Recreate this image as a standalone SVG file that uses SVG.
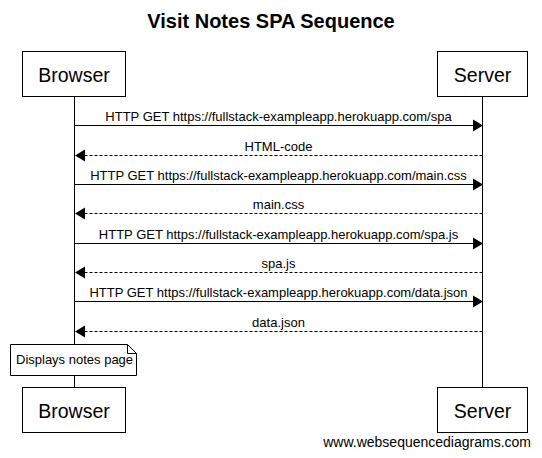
<svg xmlns="http://www.w3.org/2000/svg" width="542" height="458" viewBox="0 0 542 458">
<style>
text{font-family:"Liberation Sans",Arial,sans-serif;fill:#000}
.title{font-size:20px;font-weight:bold;text-anchor:middle}
.actor rect{fill:#fff;stroke:#000;stroke-width:1}
.actor text{font-size:19.5px;text-anchor:middle}
.life{stroke:#000;stroke-width:1;fill:none}
.msg{stroke:#000;stroke-width:1;fill:none}
.dash{stroke-dasharray:3,2}
.head{fill:#000;stroke:none}
.lbl{font-size:13px;text-anchor:middle}
.note path{fill:#fff;stroke:#000;stroke-width:1}
.note text{font-size:13px}
.foot{font-size:14px;text-anchor:end}
</style>
<rect width="542" height="458" fill="#fff"/>
<text class="title" x="271" y="28">Visit Notes SPA Sequence</text>
<g id="lifelines">
<line class="life" x1="74.5" y1="96.5" x2="74.5" y2="387.5"/>
<line class="life" x1="482.5" y1="96.5" x2="482.5" y2="387.5"/>
</g>
<g id="browser-top" class="actor"><rect x="22.5" y="51.5" width="103" height="45"/><text x="74" y="82">Browser</text></g>
<g id="server-top" class="actor"><rect x="437.5" y="51.5" width="90" height="45"/><text x="482.5" y="82">Server</text></g>
<g id="connectors">
<line class="msg" x1="74.5" y1="125.5" x2="474" y2="125.5"/><polygon class="head" points="483,125.5 473,119.5 473,131.5"/>
<text class="lbl" x="278.5" y="121">HTTP GET https://fullstack-exampleapp.herokuapp.com/spa</text>
<line class="msg dash" x1="482.5" y1="155.5" x2="84" y2="155.5"/><polygon class="head" points="75,155.5 85,149.5 85,161.5"/>
<text class="lbl" x="278.5" y="151">HTML-code</text>
<line class="msg" x1="74.5" y1="184.5" x2="474" y2="184.5"/><polygon class="head" points="483,184.5 473,178.5 473,190.5"/>
<text class="lbl" x="278.5" y="180">HTTP GET https://fullstack-exampleapp.herokuapp.com/main.css</text>
<line class="msg dash" x1="482.5" y1="213.5" x2="84" y2="213.5"/><polygon class="head" points="75,213.5 85,207.5 85,219.5"/>
<text class="lbl" x="278.5" y="209">main.css</text>
<line class="msg" x1="74.5" y1="243.5" x2="474" y2="243.5"/><polygon class="head" points="483,243.5 473,237.5 473,249.5"/>
<text class="lbl" x="278.5" y="239">HTTP GET https://fullstack-exampleapp.herokuapp.com/spa.js</text>
<line class="msg dash" x1="482.5" y1="272.5" x2="84" y2="272.5"/><polygon class="head" points="75,272.5 85,266.5 85,278.5"/>
<text class="lbl" x="278.5" y="268">spa.js</text>
<line class="msg" x1="74.5" y1="301.5" x2="474" y2="301.5"/><polygon class="head" points="483,301.5 473,295.5 473,307.5"/>
<text class="lbl" x="278.5" y="297">HTTP GET https://fullstack-exampleapp.herokuapp.com/data.json</text>
<line class="msg dash" x1="482.5" y1="331.5" x2="84" y2="331.5"/><polygon class="head" points="75,331.5 85,325.5 85,337.5"/>
<text class="lbl" x="278.5" y="327">data.json</text>
</g>
<g id="note" class="note">
<path d="M10.5,344.5 H127.5 L136.5,353.5 V375.5 H10.5 Z M127.5,344.5 V353.5 H136.5"/>
<text x="16" y="364">Displays notes page</text>
</g>
<g id="browser-bottom" class="actor"><rect x="22.5" y="387.5" width="103" height="45"/><text x="74" y="418">Browser</text></g>
<g id="server-bottom" class="actor"><rect x="437.5" y="387.5" width="90" height="45"/><text x="482.5" y="418">Server</text></g>
<text class="foot" x="531" y="447">www.websequencediagrams.com</text>
</svg>
